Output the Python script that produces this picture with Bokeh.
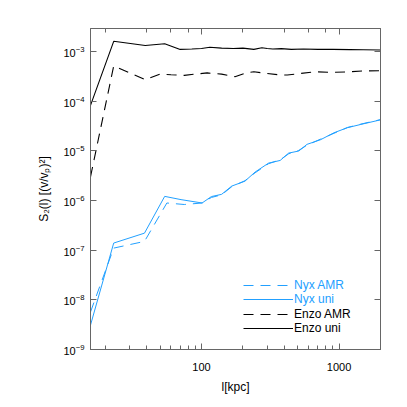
from bokeh.plotting import figure
from bokeh.models import LogAxis, Legend, PrintfTickFormatter
from bokeh.embed import file_html
from bokeh.resources import INLINE

# ---- data ----
nyx_amr_x = [15.6, 23, 38.5, 56, 75, 101, 118, 140, 166, 207, 245, 307, 373, 430, 509, 585, 733, 918, 1150, 1440, 2000]
nyx_amr_y = [5.7e-9, 1.1e-7, 1.5e-7, 8.9e-7, 8.3e-7, 8.9e-7, 1.15e-6, 1.3e-6, 1.9e-6, 2.5e-6, 3.6e-6, 5.5e-6,
             6.6e-6, 8.7e-6, 1.02e-5, 1.3e-5, 1.72e-5, 2.25e-5, 2.95e-5, 3.45e-5, 4.25e-5]

nyx_uni_x = [15.6, 23, 38.5, 54, 71, 101, 118, 140, 166, 207, 245, 307, 373, 430, 509, 585, 733, 918, 1150, 1440, 2000]
nyx_uni_y = [3.1e-9, 1.39e-7, 2.2e-7, 1.21e-6, 1.04e-6, 8.9e-7, 1.2e-6, 1.33e-6, 1.95e-6, 2.45e-6, 3.73e-6, 5.65e-6,
             6.4e-6, 9e-6, 9.9e-6, 1.35e-5, 1.67e-5, 2.31e-5, 2.92e-5, 3.4e-5, 4.2e-5]

enzo_amr_x = [15.6, 23, 39, 50, 60, 75, 90, 110, 140, 175, 210, 240, 300, 360, 420, 520, 680, 900, 1200, 1500, 2000]
enzo_amr_y = [3e-6, 5.1e-4, 2.7e-4, 3.5e-4, 3.4e-4, 3.3e-4, 3.5e-4, 3.7e-4, 3.5e-4, 3.1e-4, 3.7e-4, 3.9e-4,
              3.6e-4, 3.4e-4, 3.35e-4, 3.6e-4, 3.9e-4, 3.8e-4, 3.9e-4, 4.05e-4, 4.1e-4]

enzo_uni_x = [15.6, 23, 39, 54, 70, 85, 100, 115, 140, 170, 200, 240, 275, 300, 330, 380, 450, 550, 700, 900, 1200, 1500, 2000]
enzo_uni_y = [8.2e-5, 1.6e-3, 1.32e-3, 1.43e-3, 1.1e-3, 1.12e-3, 1.15e-3, 1.22e-3, 1.17e-3, 1.15e-3, 1.17e-3, 1.1e-3,
              1.19e-3, 1.15e-3, 1.12e-3, 1.14e-3, 1.1e-3, 1.12e-3, 1.1e-3, 1.1e-3, 1.09e-3, 1.08e-3, 1.07e-3]

labels = ["Nyx AMR", "Nyx uni", "Enzo AMR", "Enzo uni"]

BLUE = "#22a0ff"
FONT = "Liberation Sans"
GREY = "#666666"

p = figure(frame_width=290, frame_height=321, x_axis_type="log", y_axis_type="log",
           x_range=(15.6, 2000), y_range=(1e-9, 2.9e-3),
           output_backend="svg", toolbar_location=None,
           min_border_left=90, min_border_right=10, min_border_top=28, min_border_bottom=50)
p.grid.visible = False
p.outline_line_color = GREY
p.background_fill_color = "white"

r1 = p.line(nyx_amr_x, nyx_amr_y, line_color=BLUE, line_width=1, line_dash="10 7")
r2 = p.line(nyx_uni_x, nyx_uni_y, line_color=BLUE, line_width=1)
r3 = p.line(enzo_amr_x, enzo_amr_y, line_color="black", line_width=1.1, line_dash="10 7")
r4 = p.line(enzo_uni_x, enzo_uni_y, line_color="black", line_width=1.1)

# axes styling
xa = p.xaxis[0]
ya = p.yaxis[0]
xa.formatter = PrintfTickFormatter(format="%d")
xa.axis_label = "l[kpc]"
ya.axis_label = "S\u2082(l) [(v/v\u209a)\u00b2]"
for ax in (xa, ya):
    ax.axis_line_color = GREY
    ax.major_tick_line_color = GREY
    ax.minor_tick_line_color = GREY
    ax.major_tick_in = 6
    ax.major_tick_out = 0
    ax.minor_tick_in = 4
    ax.minor_tick_out = 0
    ax.major_label_text_font = FONT
    ax.major_label_text_font_size = "11px"
    ax.major_label_text_color = "black"
    ax.axis_label_text_font = FONT
    ax.axis_label_text_font_size = "12px"
    ax.axis_label_text_font_style = "normal"
    ax.axis_label_text_color = "black"
ya.minor_tick_line_color = None
xa.major_label_standoff = 13
xa.axis_label_standoff = 6
ya.major_label_standoff = 6
ya.axis_label_standoff = 9

top = LogAxis(axis_line_color=GREY, formatter=PrintfTickFormatter(format="%d"),
              major_tick_line_color=GREY, minor_tick_line_color=GREY,
              major_tick_in=6, major_tick_out=0, minor_tick_in=4, minor_tick_out=0,
              major_label_text_font_size="1px", major_label_text_alpha=0,
              major_label_standoff=0)
right = LogAxis(axis_line_color=GREY, formatter=PrintfTickFormatter(format="%d"),
                major_tick_line_color=GREY, minor_tick_line_color=None,
                major_tick_in=6, major_tick_out=0,
                major_label_text_font_size="1px", major_label_text_alpha=0,
                major_label_standoff=0)
p.add_layout(top, "above")
p.add_layout(right, "right")

common = dict(glyph_width=50, glyph_height=14, label_height=14, label_standoff=1,
              spacing=0, padding=0, margin=0, border_line_color=None,
              background_fill_alpha=0, label_text_font=FONT, label_text_font_size="12px")
leg1 = Legend(items=[(labels[0], [r1]), (labels[1], [r2])], location=(153, 43),
              label_text_color=BLUE, **common)
leg2 = Legend(items=[(labels[2], [r3]), (labels[3], [r4])], location=(153, 14),
              label_text_color="black", **common)
p.add_layout(leg1, "center")
p.add_layout(leg2, "center")

open("out.html", "w").write(file_html(p, INLINE))
